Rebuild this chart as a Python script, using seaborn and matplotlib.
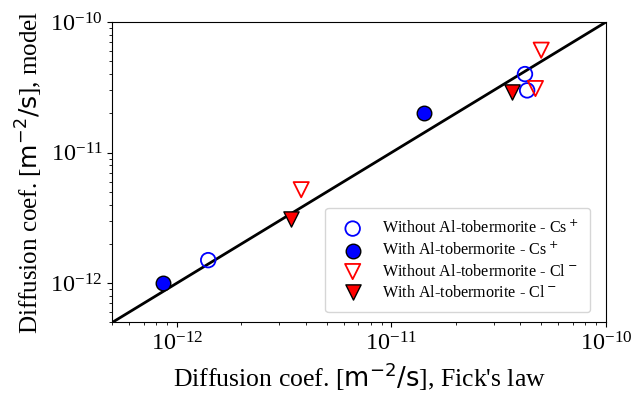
import matplotlib
matplotlib.use("Agg")
import matplotlib.pyplot as plt
import seaborn as sns
import numpy as np

# Fick's law (x) vs model (y) diffusion coefficients [m^2/s]
fick_without_cs = [1.4e-12, 4.2e-11, 4.3e-11]
model_without_cs = [1.5e-12, 4.0e-11, 3.0e-11]
fick_with_cs = [8.6e-13, 1.42e-11]
model_with_cs = [1.0e-12, 2.0e-11]
fick_without_cl = [3.8e-12, 5.0e-11, 4.7e-11]
model_without_cl = [5.2e-12, 6.1e-11, 3.1e-11]
fick_with_cl = [3.4e-12, 3.65e-11]
model_with_cl = [3.1e-12, 2.9e-11]
diag = [5e-13, 1e-10]

plt.rcParams['font.family'] = ['Liberation Serif', 'DejaVu Serif']
plt.rcParams['mathtext.fontset'] = 'dejavusans'

fig, ax = plt.subplots(figsize=(6.31, 4.03), dpi=100)

sns.lineplot(x=diag, y=diag, color='black', lw=2, ax=ax)
sns.scatterplot(x=fick_without_cs, y=model_without_cs, marker='o', s=110,
                facecolor='none', edgecolor='blue', linewidth=1.3,
                label=r'Without Al-tobermorite - Cs$\,^{+}$', ax=ax, zorder=3)
sns.scatterplot(x=fick_with_cs, y=model_with_cs, marker='o', s=110,
                color='blue', edgecolor='black', linewidth=1,
                label=r'With Al-tobermorite - Cs$\,^{+}$', ax=ax, zorder=3)
sns.scatterplot(x=fick_without_cl, y=model_without_cl, marker='v', s=120,
                facecolor='none', edgecolor='red', linewidth=1.3,
                label=r'Without Al-tobermorite - Cl$\,^{-}$', ax=ax, zorder=3)
sns.scatterplot(x=fick_with_cl, y=model_with_cl, marker='v', s=120,
                color='red', edgecolor='black', linewidth=1,
                label=r'With Al-tobermorite - Cl$\,^{-}$', ax=ax, zorder=3)

ax.set_xscale('log')
ax.set_yscale('log')
ax.set_xlim(5e-13, 1e-10)
ax.set_ylim(5e-13, 1e-10)
ax.tick_params(labelsize=17.5)
ax.set_xlabel(r"Diffusion coef. [$\mathrm{m}^{-2}/\mathrm{s}$], Fick's law", fontsize=18.5)
ax.set_ylabel(r"Diffusion coef. [$\mathrm{m}^{-2}/\mathrm{s}$], model", fontsize=18)
ax.legend(loc='lower right', bbox_to_anchor=(0.968, 0.035), fontsize=11.6,
          borderpad=0.7, labelspacing=0.3, borderaxespad=0)

plt.subplots_adjust(left=0.178, right=0.96, top=0.945, bottom=0.2)
plt.savefig('out.png', dpi=100)
